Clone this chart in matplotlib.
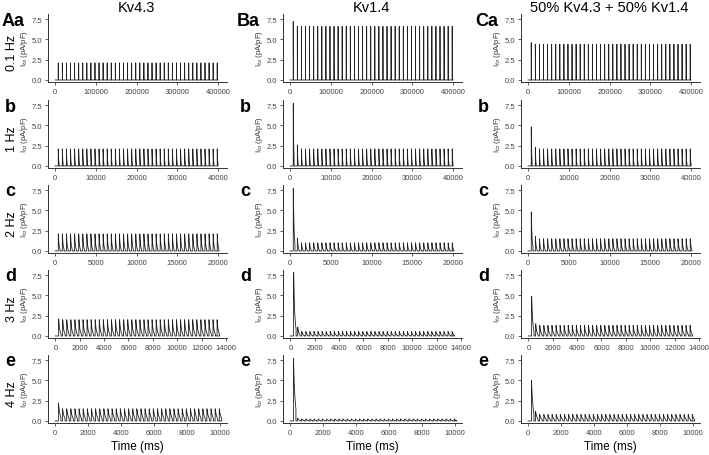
import matplotlib
matplotlib.use('Agg')
import matplotlib.pyplot as plt
import numpy as np

plt.rcParams['font.family'] = ['Liberation Sans', 'DejaVu Sans']

# stimulation frequencies (rows) and channel columns
freqs = [0.1, 1, 2, 3, 4]
row_labels = ['0.1 Hz', '1 Hz', '2 Hz', '3 Hz', '4 Hz']
col_titles = ['Kv4.3', 'Kv1.4', '50% Kv4.3 + 50% Kv1.4']
col_letters = ['A', 'B', 'C']
row_letters = ['a', 'b', 'c', 'd', 'e']
n_pulses = 40

# x tick ranges per row
x_max = [400000, 40000, 20000, 14000, 10000]
x_step = [100000, 10000, 5000, 2000, 2000]

# peak Ito (pA/pF) per pulse: first pulse, second pulse, steady state
kv43_first = [2.1, 2.1, 2.1, 2.1, 2.2]
kv43_second = [2.1, 2.1, 2.1, 2.0, 1.5]
kv43_steady = [2.1, 2.1, 2.1, 2.0, 1.5]

kv14_first = [7.2, 7.7, 7.7, 7.8, 7.7]
kv14_second = [6.6, 2.6, 1.6, 1.1, 0.35]
kv14_steady = [6.6, 2.1, 1.0, 0.55, 0.25]

mix_first = [4.6, 4.8, 4.8, 4.9, 5.0]
mix_second = [4.4, 2.3, 1.8, 1.5, 1.2]
mix_steady = [4.4, 2.1, 1.5, 1.3, 0.8]

peaks_first = [kv43_first, kv14_first, mix_first]
peaks_second = [kv43_second, kv14_second, mix_second]
peaks_steady = [kv43_steady, kv14_steady, mix_steady]


def trace(freq, first, second, steady):
    # build a pulse train: fast rise then decaying current, back to 0
    period = 1000.0 / freq
    dur = min(0.6 * period, 200.0)
    peaks = [first, second] + [steady] * (n_pulses - 2)
    t_all = [0.0]
    y_all = [0.0]
    for k, pk in enumerate(peaks):
        t0 = period * (k + 0.8)
        tt = np.linspace(0, dur, 15)
        yy = pk * np.exp(-tt / 90.0)
        t_all += [t0] + list(t0 + 4 + tt) + [t0 + dur + 4]
        y_all += [0.0] + list(yy) + [0.0]
    t_all.append(period * n_pulses)
    y_all.append(0.0)
    return np.array(t_all), np.array(y_all)


W, H = 709, 456
fig = plt.figure(figsize=(W / 100, H / 100), dpi=100)

col_left = [48, 283, 521]
row_top = [15, 101, 186, 271, 356]
ax_w, ax_h = 179, 68
right_pad = [0.055, 0.055, 0.055, 0.006, 0.042]

for c in range(3):
    for r in range(5):
        ax = fig.add_axes([col_left[c] / W, 1 - (row_top[r] + ax_h) / H,
                           ax_w / W, ax_h / H])
        t, y = trace(freqs[r], peaks_first[c][r], peaks_second[c][r],
                     peaks_steady[c][r])
        ax.plot(t, y, color='#222222', lw=0.6)
        X = x_max[r]
        ax.set_xlim(-0.043 * X, X * (1 + right_pad[r]))
        ax.set_ylim(-0.25, 8.12)
        ax.set_xticks(np.arange(0, X + 1, x_step[r]))
        ax.set_yticks([0, 2.5, 5.0, 7.5])
        ax.set_yticklabels(['0.0', '2.5', '5.0', '7.5'])
        for s in ['top', 'right']:
            ax.spines[s].set_visible(False)
        for s in ['left', 'bottom']:
            ax.spines[s].set_color('#333333')
            ax.spines[s].set_linewidth(0.7)
        ax.tick_params(labelsize=5.5, colors='#444444', length=2, width=0.6, pad=2)
        ax.set_ylabel('I$_{to}$ (pA/pF)', fontsize=5.5, color='#333333', labelpad=1)
        if r == 0:
            fig.text((col_left[c] - 46) / W, 1 - (row_top[r] + 7) / H,
                     col_letters[c] + row_letters[r],
                     fontsize=13, fontweight='bold', ha='left', va='center')
        else:
            fig.text((col_left[c] - 43) / W, 1 - (row_top[r] + 6) / H,
                     row_letters[r],
                     fontsize=13, fontweight='bold', ha='left', va='center')
        if r == 4:
            ax.set_xlabel('Time (ms)', fontsize=8.5, labelpad=3)
        if c == 0:
            fig.text(12 / W, 1 - (row_top[r] + 38) / H, row_labels[r],
                     fontsize=9, rotation=90, ha='center', va='center')
    fig.text((col_left[c] + 88) / W, 1 - 8 / H, col_titles[c],
             fontsize=10.5, ha='center', va='center')

fig.savefig('out.png', dpi=100)
